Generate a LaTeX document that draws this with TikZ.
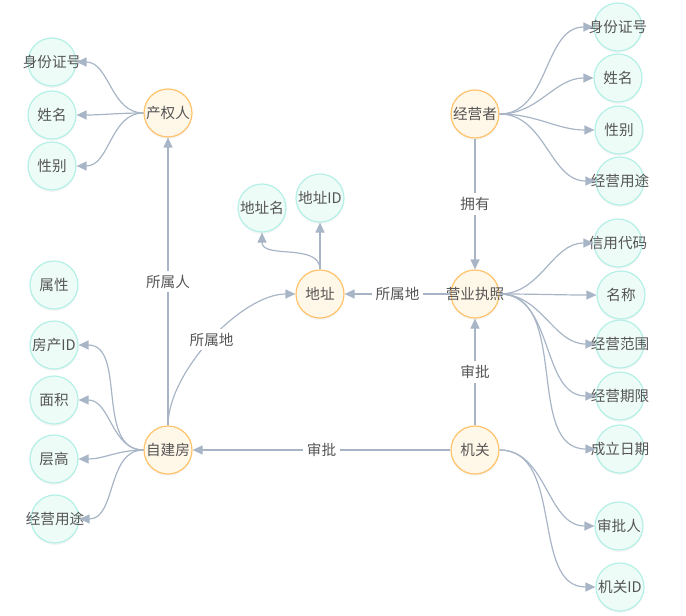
\documentclass[tikz,border=0pt]{standalone}
\usepackage{fontspec}
\newfontfamily\cjk{Noto Sans CJK SC}
\usepackage{tikz}
\usetikzlibrary{arrows.meta}
\usetikzlibrary{shadows}

\definecolor{edgecol}{HTML}{A8B5C6}
\definecolor{txtcol}{HTML}{555555}
\definecolor{entline}{HTML}{FFC36B}
\definecolor{entfill}{HTML}{FFF7E8}
\definecolor{attrline}{HTML}{B4F0E6}
\definecolor{attrfill}{HTML}{EEFCF8}

\tikzset{
  txtlbl/.style={font=\cjk\fontsize{14.6}{16}\selectfont,text=txtcol,inner sep=0pt},
  bubble/.style={circle,line width=1.2pt,minimum size=48pt,inner sep=0pt,
    drop shadow={opacity=0.08,shadow xshift=0pt,shadow yshift=-2pt}},
  ent/.style={bubble,draw=entline,fill=entfill,label={[txtlbl]center:#1}},
  attr/.style={bubble,draw=attrline,fill=attrfill,label={[txtlbl]center:#1}},
  rel/.style={draw=edgecol,line width=1.2pt,-{Triangle[length=10pt,width=9pt]}},
  lbl/.style={fill=white,font=\cjk\fontsize{14.6}{16}\selectfont,text=txtcol,inner sep=4pt}
}

\begin{document}
\begin{tikzpicture}[x=1pt,y=-1pt]
        \useasboundingbox (0,0) rectangle (686,616);

        % entities
        \node[ent=产权人] (cqr) at (168,113) {};
        \node[ent=经营者] (jyz) at (475,114) {};
        \node[ent=地址] (dz) at (320,294) {};
        \node[ent=营业执照] (yyzz) at (475,294) {};
        \node[ent=自建房] (zjf) at (168,450) {};
        \node[ent=机关] (jg) at (475,450) {};

        % attributes left
        \node[attr=身份证号] (cqrA) at (52,62) {};
        \node[attr=姓名] (cqrB) at (52,115) {};
        \node[attr=性别] (cqrC) at (52,166) {};
        \node[attr=属性] (sx) at (54,285) {};
        \node[attr=房产ID] (zjfA) at (54,345) {};
        \node[attr=面积] (zjfB) at (54,400) {};
        \node[attr=层高] (zjfC) at (54,459) {};
        \node[attr=经营用途] (zjfD) at (55,519) {};

        % attributes right
        \node[attr=身份证号] (jyzA) at (618,27) {};
        \node[attr=姓名] (jyzB) at (618,78) {};
        \node[attr=性别] (jyzC) at (619,130) {};
        \node[attr=经营用途] (jyzD) at (620,181) {};
        \node[attr=信用代码] (yyzzA) at (618,243) {};
        \node[attr=名称] (yyzzB) at (621,295) {};
        \node[attr=经营范围] (yyzzC) at (620,344) {};
        \node[attr=经营期限] (yyzzD) at (620,396) {};
        \node[attr=成立日期] (yyzzE) at (620,449) {};
        \node[attr=审批人] (jgA) at (619,526) {};
        \node[attr=机关ID] (jgB) at (620,587) {};

        % attributes of dz
        \node[attr=地址名] (dzA) at (262,208) {};
        \node[attr=地址ID] (dzB) at (320,198) {};

        % attribute links
        \foreach \t in {cqrA,cqrB,cqrC}
                \draw[rel] (cqr) to[out=180,in=0] (\t);
        \foreach \t in {zjfA,zjfB,zjfC,zjfD}
                \draw[rel] (zjf) to[out=180,in=0] (\t);
        \foreach \t in {jyzA,jyzB,jyzC,jyzD}
                \draw[rel] (jyz) to[out=0,in=180] (\t);
        \foreach \t in {yyzzA,yyzzB,yyzzC,yyzzD,yyzzE}
                \draw[rel] (yyzz) to[out=0,in=180] (\t);
        \foreach \t in {jgA,jgB}
                \draw[rel] (jg) to[out=0,in=180] (\t);
        \draw[rel] (dz) to[out=90,in=-90] (dzA);
        \draw[rel] (dz) -- (dzB);

        % relations
        \draw[rel] (zjf) -- node[lbl] (l1) {所属人} (cqr);
        \draw[rel] (zjf) to[out=90,in=180,looseness=0.75] node[lbl] (l2) {所属地} (dz);
        \draw[rel] (yyzz) -- node[lbl] (l3) {所属地} (dz);
        \draw[rel] (jyz) -- node[lbl] (l4) {拥有} (yyzz);
        \draw[rel] (jg) -- node[lbl] (l5) {审批} (yyzz);
        \draw[rel] (jg) -- node[lbl] (l6) {审批} (zjf);
\end{tikzpicture}
\end{document}
